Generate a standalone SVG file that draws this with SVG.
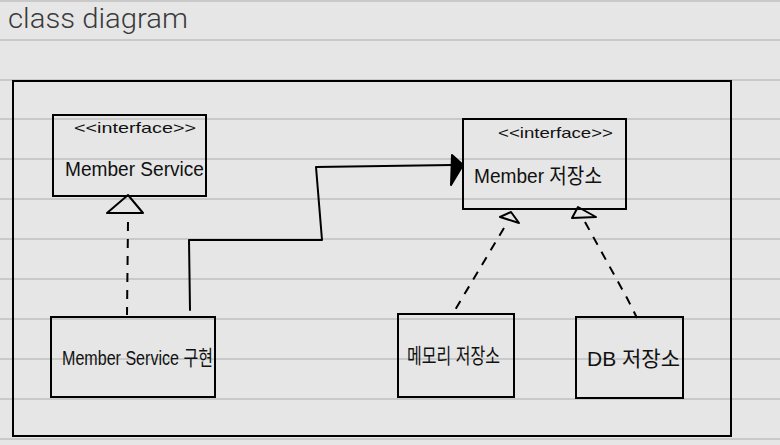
<svg xmlns="http://www.w3.org/2000/svg" width="780" height="445" viewBox="0 0 780 445">
<style>
.rule{stroke:#c9c9c9;stroke-width:2}
.box{fill:none;stroke:#000;stroke-width:2}
.ln{fill:none;stroke:#000;stroke-width:2;stroke-linecap:round;stroke-linejoin:round}
.dash{fill:none;stroke:#000;stroke-width:2;stroke-dasharray:9 8}
.t{font-family:"Liberation Sans","Noto Sans CJK KR",sans-serif;fill:#111}
.st{font-size:15px}
.nm{font-size:21px}
</style>
<rect width="780" height="445" fill="#e6e6e6"/>
<g id="paper">
<line class="rule" x1="0" y1="1" x2="780" y2="1"/>
<line class="rule" x1="0" y1="40" x2="780" y2="40"/>
<line class="rule" x1="0" y1="80" x2="780" y2="80"/>
<line class="rule" x1="0" y1="119" x2="780" y2="119"/>
<line class="rule" x1="0" y1="159" x2="780" y2="159"/>
<line class="rule" x1="0" y1="199" x2="780" y2="199"/>
<line class="rule" x1="0" y1="239" x2="780" y2="239"/>
<line class="rule" x1="0" y1="279" x2="780" y2="279"/>
<line class="rule" x1="0" y1="319" x2="780" y2="319"/>
<line class="rule" x1="0" y1="359" x2="780" y2="359"/>
<line class="rule" x1="0" y1="399" x2="780" y2="399"/>
<line class="rule" x1="0" y1="439" x2="780" y2="439"/>
</g>
<text x="8" y="28" font-family="Roboto,'Liberation Sans',sans-serif" font-size="27" font-weight="300" fill="#3a3a3a" textLength="180" lengthAdjust="spacingAndGlyphs">class diagram</text>
<rect id="frame" class="box" x="13" y="81" width="718" height="355"/>
<g id="member-service">
<rect class="box" x="53" y="115" width="153" height="81"/>
<text class="t st" x="74" y="133" textLength="122" lengthAdjust="spacingAndGlyphs">&lt;&lt;interface&gt;&gt;</text>
<text class="t nm" x="65" y="176" textLength="139" lengthAdjust="spacingAndGlyphs">Member Service</text>
</g>
<g id="member-repository">
<rect class="box" x="463" y="119" width="163" height="90"/>
<text class="t st" x="498" y="138" textLength="115" lengthAdjust="spacingAndGlyphs">&lt;&lt;interface&gt;&gt;</text>
<text class="t nm" x="474" y="183" textLength="128" lengthAdjust="spacingAndGlyphs">Member 저장소</text>
</g>
<g id="member-service-impl">
<rect class="box" x="51" y="317" width="164" height="80"/>
<text class="t nm" x="62" y="365" textLength="151" lengthAdjust="spacingAndGlyphs">Member Service 구현</text>
</g>
<g id="memory-repository">
<rect class="box" x="398" y="314" width="116" height="83"/>
<text class="t nm" x="407" y="363" textLength="93" lengthAdjust="spacingAndGlyphs">메모리 저장소</text>
</g>
<g id="db-repository">
<rect class="box" x="576" y="317" width="107" height="81"/>
<text class="t nm" x="587" y="366" textLength="93" lengthAdjust="spacingAndGlyphs">DB 저장소</text>
</g>
<g id="connectors">
<path class="dash" d="M128 222 L127 315"/>
<path class="ln" d="M128 195 L107 213 L143 213 Z"/>
<path class="ln" d="M190 310 L189 240 L322 240 L316 167 L452 165"/>
<path d="M452 155 L463 165 L451 185 Z" fill="#000" stroke="#000" stroke-width="2" stroke-linejoin="round"/>
<path class="dash" d="M504 228 L452 315"/>
<path class="ln" d="M511 212 L500 217 L519 223 Z"/>
<path class="dash" d="M585 222 L627 298 L637 318"/>
<path class="ln" d="M578 207 L572 218 L596 217 Z"/>
</g>
</svg>
